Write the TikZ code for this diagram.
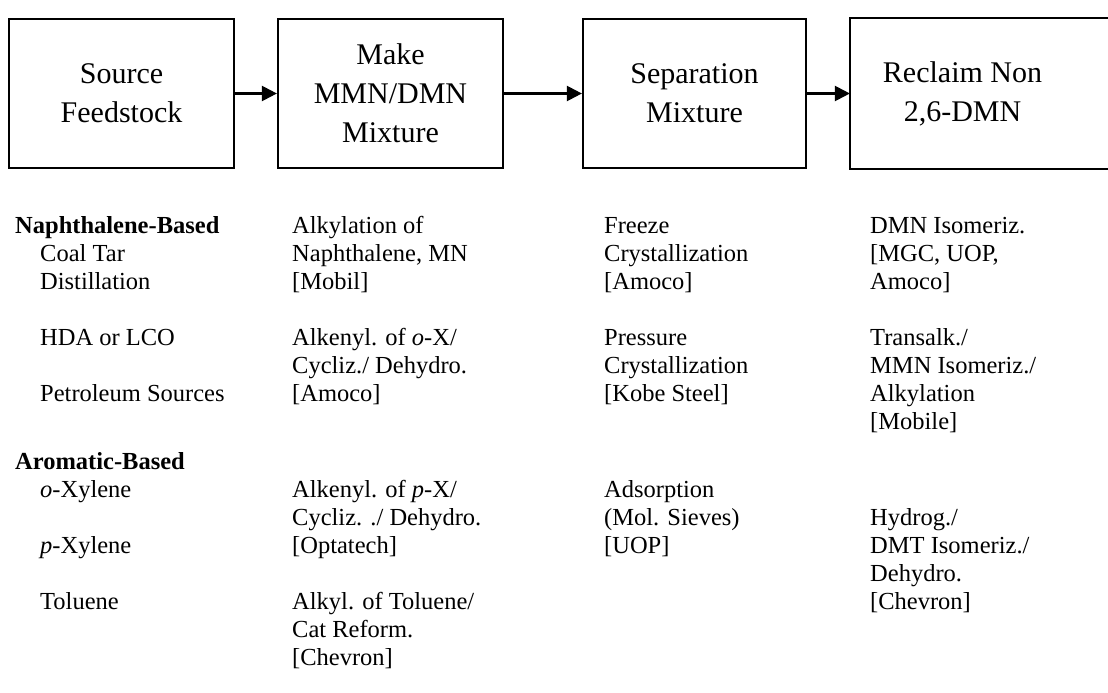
\documentclass[tikz,border=0pt]{standalone}
\usepackage{fontspec}
\setmainfont{Liberation Serif}
\usetikzlibrary{arrows.meta}
\tikzset{
  procbox/.style={draw, line width=2.2pt, minimum width=225pt, minimum height=149pt,
    inner sep=0pt, align=center, font=\fontsize{30}{39}\selectfont},
  flow/.style={line width=2.2pt, -{Triangle[length=15pt,width=15pt]}},
  txt/.style={anchor=north west, inner sep=0pt, align=left, yshift=19.6pt,
    font=\fontsize{24.5}{28}\selectfont},
  hdr/.style={txt, font=\fontsize{24.5}{28}\selectfont\bfseries}
}
\begin{document}
\begin{tikzpicture}[x=1pt,y=-1pt]
\useasboundingbox (0,0) rectangle (1108,693);
\clip (0,0) rectangle (1108,693);
% process boxes
\node[procbox] (b1) at (121.5,93.5) {Source\\Feedstock};
\node[procbox] (b2) at (390.5,93.5) {Make\\MMN/DMN\\Mixture};
\node[procbox, minimum width=223pt] (b3) at (694.5,93.5) {Separation\\Mixture};
\node[procbox, draw=none, minimum width=223pt] (b4) at (962.5,93.5) {Reclaim Non\\2,6-DMN};
\draw[line width=2.2pt] ([xshift=200pt]b4.north east) -- (b4.north west) -- (b4.south west) -- ([xshift=200pt]b4.south east);
\draw[flow] (b1.east) -- (b2.west);
\draw[flow] (b2.east) -- (b3.west);
\draw[flow] (b3.east) -- (b4.west);
% column 1
\node[hdr] (n1) at (15,233) {\strut Naphthalene-Based};
\node[txt] (n2) at (40,261) {\strut Coal Tar\\Distillation};
\node[txt] (n3) at (40,345) {\strut HDA or LCO};
\node[txt] (n4) at (40,401) {\strut Petroleum Sources};
\node[hdr] (a1) at (15,469) {\strut Aromatic-Based};
\node[txt] (a2) at (40,497) {\strut\textit{o}-Xylene};
\node[txt] (a3) at (40,553) {\strut\textit{p}-Xylene};
\node[txt] (a4) at (40,609) {\strut Toluene};
% column 2
\node[txt] (m1) at (292,233) {\strut Alkylation of\\Naphthalene, MN\\{[Mobil]}};
\node[txt] (m2) at (292,345) {\strut Alkenyl. of \textit{o}-X/\\Cycliz./ Dehydro.\\{[Amoco]}};
\node[txt] (m3) at (292,497) {\strut Alkenyl. of \textit{p}-X/\\Cycliz. ./ Dehydro.\\{[Optatech]}};
\node[txt] (m4) at (292,609) {\strut Alkyl. of Toluene/\\Cat Reform.\\{[Chevron]}};
% column 3
\node[txt] (s1) at (604,233) {\strut Freeze\\Crystallization\\{[Amoco]}};
\node[txt] (s2) at (604,345) {\strut Pressure\\Crystallization\\{[Kobe Steel]}};
\node[txt] (s3) at (604,497) {\strut Adsorption\\(Mol. Sieves)\\{[UOP]}};
% column 4
\node[txt] (r1) at (870,233) {\strut DMN Isomeriz.\\{[MGC, UOP,}\\Amoco]};
\node[txt] (r2) at (870,345) {\strut Transalk./\\MMN Isomeriz./\\Alkylation\\{[Mobile]}};
\node[txt] (r3) at (870,525) {\strut Hydrog./\\DMT Isomeriz./\\Dehydro.\\{[Chevron]}};
\end{tikzpicture}
\end{document}
